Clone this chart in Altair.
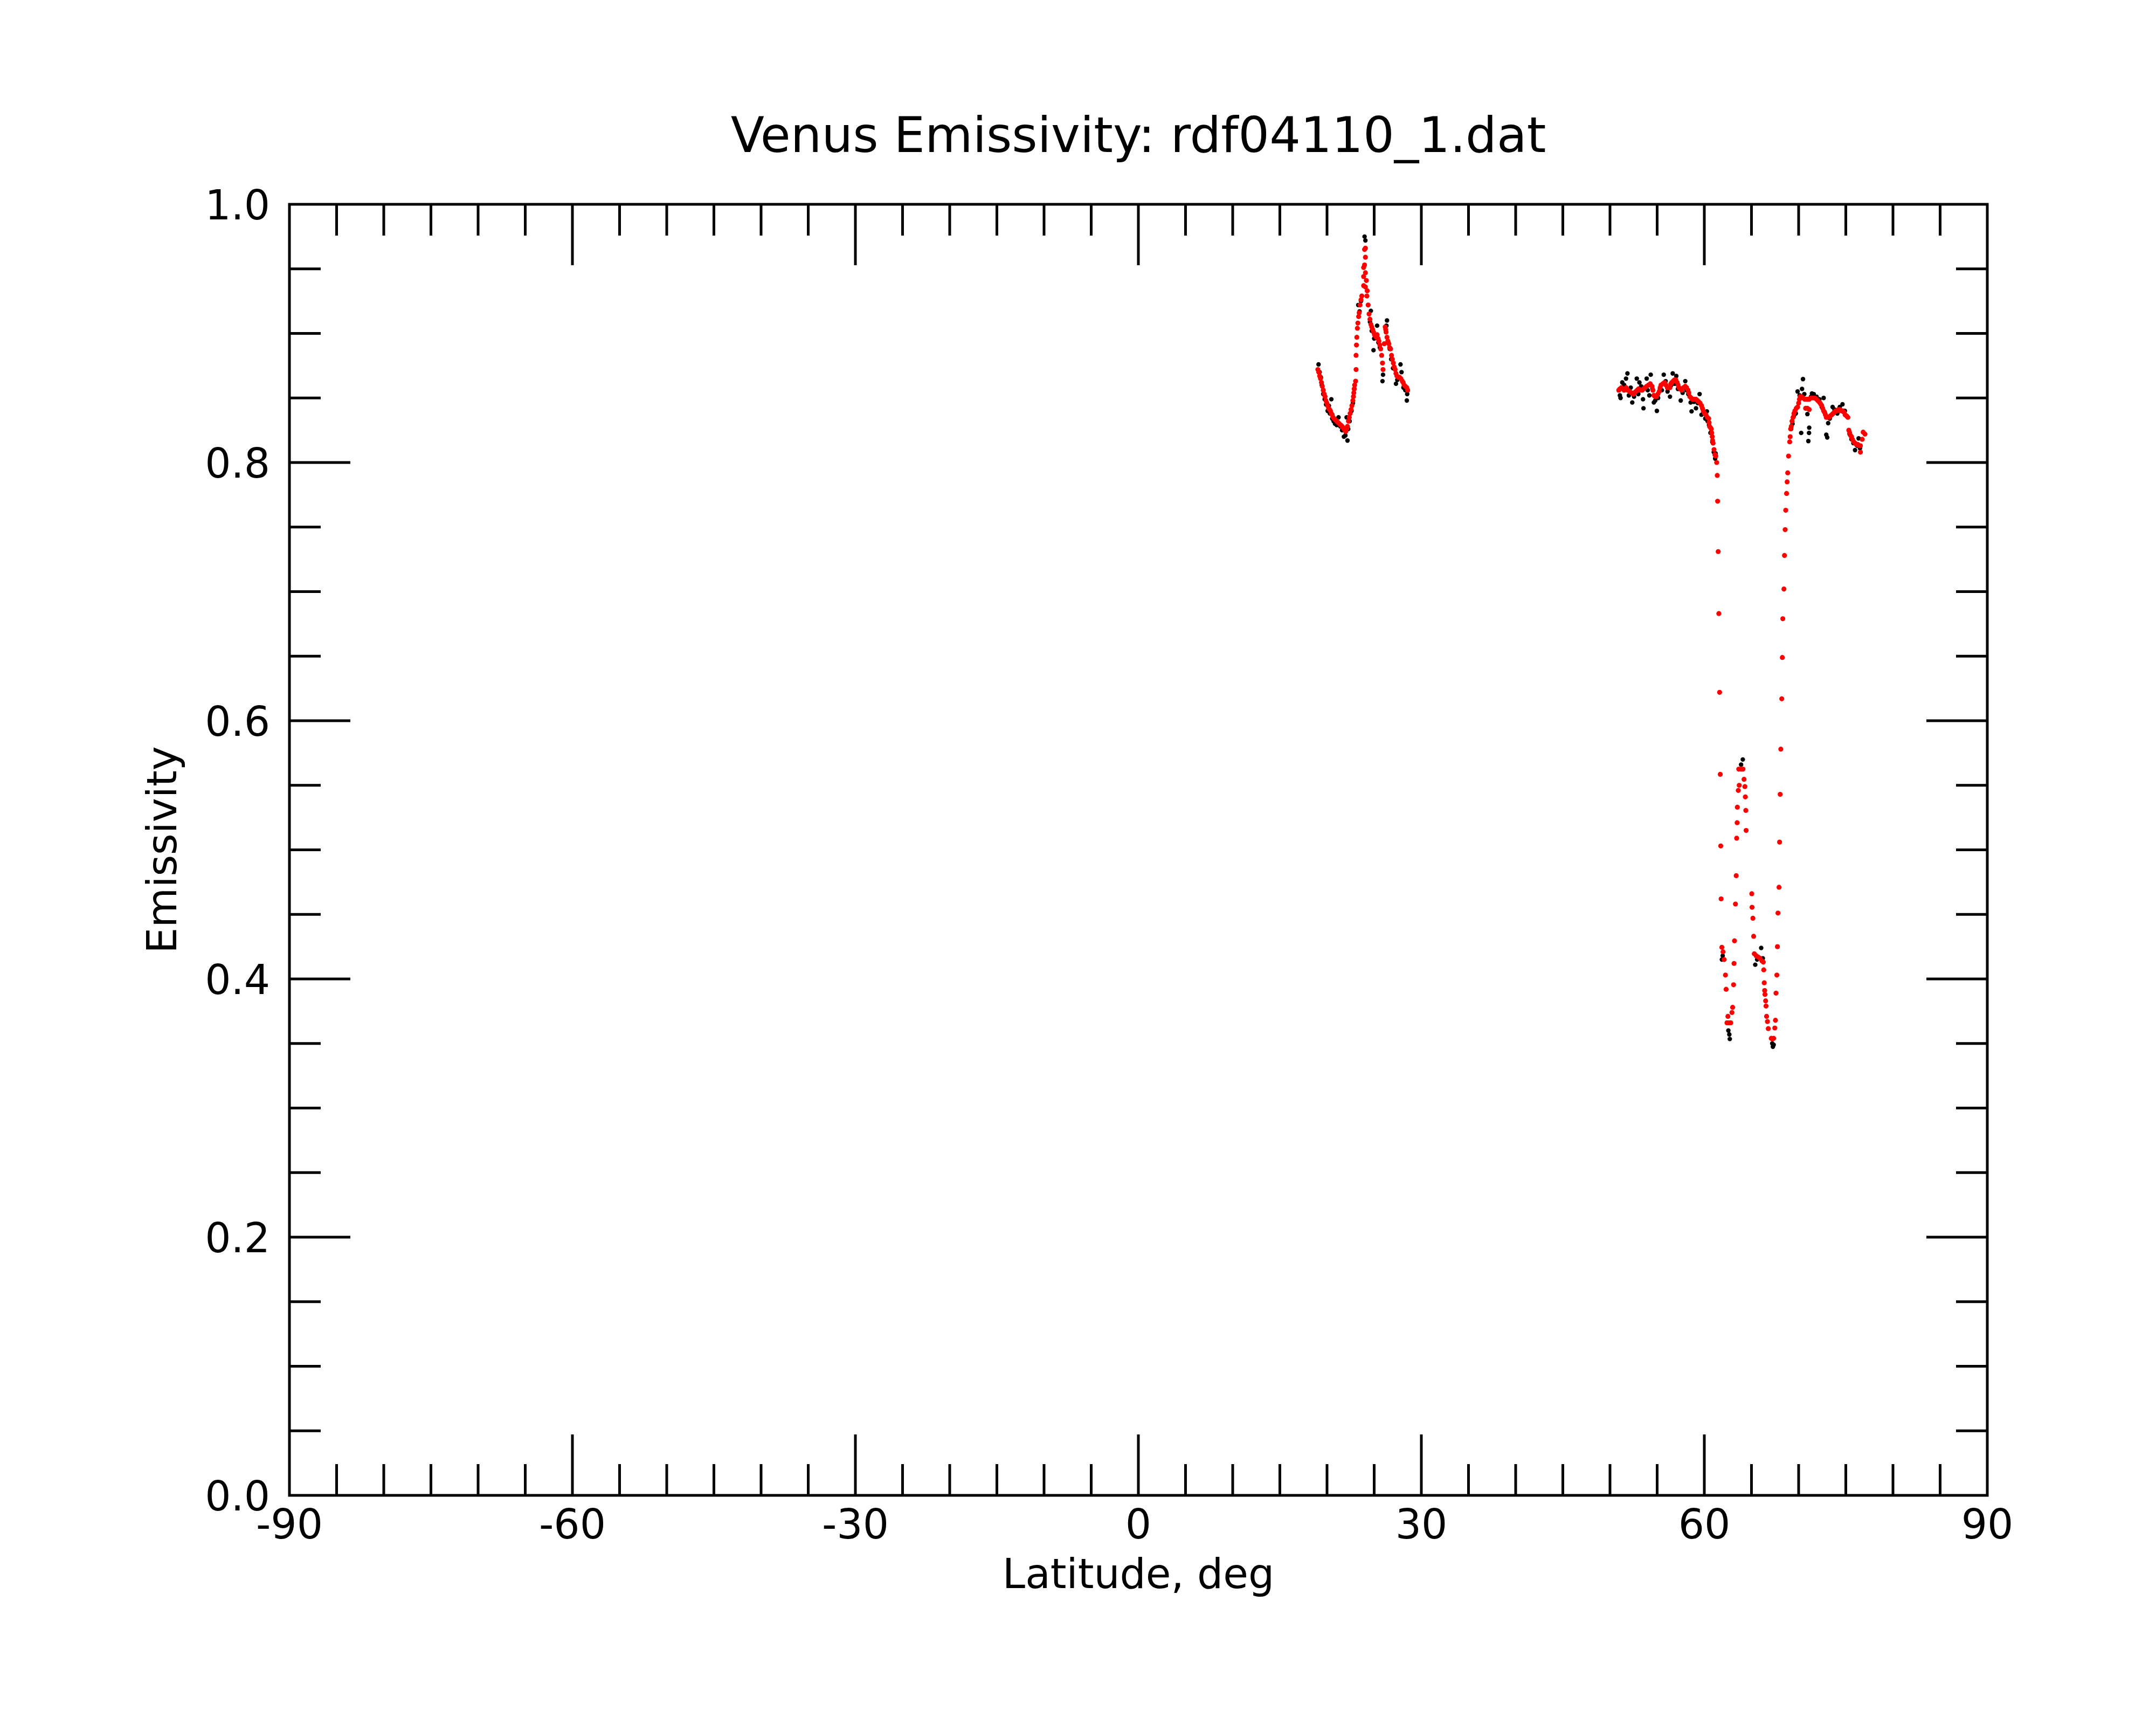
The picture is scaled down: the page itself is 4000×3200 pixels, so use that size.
import altair as alt
import pandas as pd

# ---------------- data ----------------
lat_red = [
    # cluster 1
    19.03, 19.12, 19.22, 19.31, 19.41, 19.50, 19.60, 19.70, 19.79, 19.88,
    19.98, 20.07, 20.17, 20.27, 20.36, 20.45, 20.55, 20.64, 20.74, 20.88,
    21.03, 21.17, 21.31, 21.45, 21.60, 21.70, 21.79, 21.88, 21.98, 22.08,
    22.17, 22.27, 22.36, 22.45, 22.55, 22.64, 22.74, 22.80, 22.84, 22.88,
    22.93, 23.03, 23.08, 23.08, 23.12, 23.16, 23.22, 23.27, 23.35, 23.41,
    23.50, 23.60, 23.69, 23.88, 23.88, 23.88, 23.98, 24.07, 23.98, 24.07,
    24.07, 24.17, 24.07, 24.26, 24.23, 24.36, 24.46, 24.55, 24.65, 24.74,
    24.84, 24.93, 25.03, 25.12, 25.22, 25.31, 25.41, 25.50, 25.60, 25.69,
    25.79, 25.88, 25.94, 26.07, 26.17, 26.22, 26.26, 26.36, 26.45, 26.55,
    26.64, 26.74, 26.84, 26.93, 27.03, 27.12, 27.22, 27.31, 27.41, 27.55,
    27.69, 27.83, 27.98, 28.07, 28.17, 28.31, 28.46, 28.55,
    # cluster 2
    50.93, 51.05, 51.22, 51.36, 51.50, 51.60, 51.70, 51.89, 52.08, 52.27,
    52.46, 52.60, 52.74, 52.89, 53.03, 53.22, 53.41, 53.55, 53.70, 53.89,
    54.08, 54.27, 54.46, 54.55, 54.65, 54.79, 54.93, 55.08, 55.22, 55.32,
    55.41, 55.60, 55.79, 55.93, 56.08, 56.22, 56.36, 56.45, 56.55, 56.70,
    56.84, 56.98, 57.12, 57.22, 57.31, 57.45, 57.60, 57.79, 57.98, 58.12,
    58.27, 58.36, 58.46, 58.60, 58.74, 58.93, 59.12, 59.27, 59.41, 59.55,
    59.70, 59.80, 59.89, 60.03, 60.17, 60.32, 60.46, 60.50, 60.55, 60.65,
    60.74, 60.79, 60.84, 60.88, 60.93, 61.03, 61.12,
    # dip
    61.22, 61.31, 61.37, 61.41, 61.47, 61.54, 61.62, 61.69, 61.74, 61.78,
    61.86, 61.98, 62.10, 62.24, 62.31, 62.50, 62.40, 62.60, 62.80, 62.93,
    63.00, 63.10, 63.15, 63.20, 63.30, 63.38, 63.43, 63.48, 63.50, 63.60,
    63.70, 63.65, 63.90, 64.10, 64.21, 64.30, 64.35, 64.40, 64.43, 65.03,
    65.06, 65.15, 65.23, 65.30, 65.50, 65.70, 65.90, 66.10, 66.25, 66.30,
    66.35, 66.40, 66.43, 66.50, 66.54, 66.60, 66.69, 66.78, 67.10, 67.22,
    67.35, 67.47, 67.54, 67.60, 67.69, 67.75, 67.81, 67.92, 67.98, 68.04,
    68.11, 68.21, 68.27, 68.32, 68.44, 68.50, 68.57, 68.63, 68.72, 68.78,
    68.84, 68.93,
    # cluster 3
    69.05, 69.10, 69.15, 69.22, 69.30, 69.41, 69.50, 69.60, 69.75, 69.89,
    70.00, 70.08, 70.17, 70.30, 70.46, 70.65, 70.84, 71.00, 71.12, 71.30,
    71.51, 71.70, 71.89, 72.03, 72.17, 72.27, 72.36, 72.45, 72.55, 72.65,
    72.74, 72.84, 72.93, 73.08, 73.22, 73.36, 73.51, 73.65, 73.79, 73.93,
    74.08, 74.22, 74.36, 74.50, 74.65, 74.79, 74.93, 75.08, 75.22, 70.74,
    70.93, 71.12, 75.32, 75.41, 75.50, 75.60, 75.70, 75.84, 75.98, 76.12,
    76.27, 76.41, 76.55, 76.55, 76.74, 76.84, 77.03,
]
emis_red = [
    # cluster 1
    0.872, 0.870, 0.867, 0.865, 0.862, 0.859, 0.856, 0.853, 0.851, 0.848,
    0.846, 0.844, 0.842, 0.841, 0.840, 0.838, 0.837, 0.835, 0.834, 0.833,
    0.832, 0.831, 0.830, 0.829, 0.828, 0.827, 0.826, 0.825, 0.824, 0.826,
    0.828, 0.832, 0.835, 0.838, 0.841, 0.844, 0.848, 0.851, 0.854, 0.857,
    0.860, 0.863, 0.872, 0.883, 0.891, 0.897, 0.904, 0.908, 0.913, 0.916,
    0.922, 0.926, 0.929, 0.937, 0.944, 0.951, 0.953, 0.959, 0.965, 0.966,
    0.947, 0.941, 0.936, 0.933, 0.929, 0.922, 0.915, 0.911, 0.907, 0.905,
    0.903, 0.901, 0.899, 0.898, 0.897, 0.899, 0.896, 0.894, 0.891, 0.888,
    0.883, 0.877, 0.872, 0.892, 0.905, 0.903, 0.901, 0.897, 0.894, 0.892,
    0.889, 0.888, 0.883, 0.880, 0.877, 0.874, 0.872, 0.869, 0.867, 0.866,
    0.866, 0.865, 0.863, 0.862, 0.860, 0.859, 0.858, 0.856,
    # cluster 2
    0.856, 0.857, 0.858, 0.857, 0.856, 0.857, 0.858, 0.856, 0.855, 0.854,
    0.853, 0.854, 0.855, 0.856, 0.857, 0.856, 0.856, 0.857, 0.858, 0.859,
    0.860, 0.861, 0.859, 0.856, 0.852, 0.851, 0.851, 0.853, 0.855, 0.858,
    0.860, 0.861, 0.862, 0.860, 0.858, 0.858, 0.858, 0.861, 0.862, 0.863,
    0.864, 0.864, 0.862, 0.860, 0.858, 0.857, 0.856, 0.858, 0.859, 0.858,
    0.856, 0.854, 0.851, 0.850, 0.849, 0.849, 0.849, 0.848, 0.847, 0.846,
    0.844, 0.842, 0.840, 0.838, 0.837, 0.835, 0.834, 0.831, 0.828, 0.827,
    0.826, 0.823, 0.820, 0.817, 0.815, 0.810, 0.806,
    # dip
    0.805, 0.800, 0.790, 0.770, 0.731, 0.683, 0.622, 0.5585, 0.503, 0.462,
    0.4245, 0.421, 0.415, 0.403, 0.392, 0.371, 0.366, 0.366, 0.366, 0.374,
    0.378, 0.3955, 0.412, 0.4295, 0.458, 0.480, 0.509, 0.521, 0.533, 0.546,
    0.550, 0.5625, 0.5625, 0.5625, 0.5546, 0.549, 0.541, 0.5305, 0.515, 0.466,
    0.4555, 0.447, 0.433, 0.4195, 0.418, 0.417, 0.416, 0.414, 0.413, 0.407,
    0.397, 0.391, 0.388, 0.383, 0.379, 0.371, 0.367, 0.3615, 0.354, 0.3535,
    0.354, 0.362, 0.368, 0.389, 0.403, 0.425, 0.451, 0.471, 0.506, 0.543,
    0.578, 0.617, 0.649, 0.679, 0.702, 0.728, 0.748, 0.763, 0.776, 0.785,
    0.792, 0.805,
    # cluster 3
    0.816, 0.820, 0.826, 0.828, 0.832, 0.835, 0.838, 0.840, 0.842, 0.843,
    0.846, 0.849, 0.851, 0.851, 0.850, 0.849, 0.849, 0.849, 0.849, 0.850,
    0.850, 0.850, 0.849, 0.848, 0.847, 0.846, 0.845, 0.844, 0.842, 0.840,
    0.839, 0.837, 0.835, 0.835, 0.835, 0.836, 0.837, 0.838, 0.839, 0.840,
    0.840, 0.841, 0.841, 0.840, 0.840, 0.839, 0.837, 0.836, 0.835, 0.842,
    0.842, 0.841, 0.825, 0.823, 0.821, 0.820, 0.818, 0.816, 0.815, 0.814,
    0.814, 0.813, 0.813, 0.808, 0.818, 0.8235, 0.822,
]

lat_black = [
    # cluster 1
    19.10, 19.22, 19.35, 19.45, 19.60, 19.75, 19.90, 20.07, 20.20, 20.30,
    20.46, 20.55, 20.70, 20.85, 21.03, 21.22, 21.41, 21.60, 21.79, 21.95,
    22.08, 22.17, 22.25, 22.40, 22.60, 22.75, 22.90, 23.31, 23.45, 23.60,
    23.98, 24.07, 24.65, 24.55, 24.74, 24.93, 25.00, 25.31, 25.45, 25.60,
    25.88, 25.94, 26.36, 26.30, 26.50, 26.65, 26.80, 27.00, 27.31, 27.45,
    27.79, 27.90, 28.10, 28.30, 28.46, 28.50,
    # cluster 2
    51.05, 51.12, 51.30, 51.50, 51.70, 51.85, 52.00, 52.20, 52.36, 52.55,
    52.84, 53.00, 53.12, 53.30, 53.50, 53.55, 53.89, 54.00, 54.17, 54.32,
    54.50, 54.65, 54.80, 54.97, 55.10, 55.30, 55.50, 55.70, 55.90, 56.10,
    56.36, 56.50, 56.65, 56.85, 57.03, 57.20, 57.50, 57.70, 57.98, 58.10,
    58.30, 58.55, 58.65, 58.90, 59.12, 59.30, 59.50, 59.70, 59.90, 60.10,
    60.27, 60.35, 60.50, 60.65, 60.85, 61.00, 61.15,
    # dip
    61.20, 61.86, 61.95, 62.55, 62.70, 62.65, 63.90, 64.08, 65.40, 65.60,
    66.03, 66.20, 66.40, 67.20, 67.27, 67.35,
    # cluster 3
    69.20, 69.35, 69.50, 69.70, 69.89, 70.10, 70.27, 70.36, 70.46, 70.60,
    70.93, 71.03, 71.12, 71.10, 71.30, 71.41, 71.60, 71.90, 72.20, 72.45,
    72.65, 72.80, 72.93, 73.03, 73.13, 73.30, 73.60, 73.80, 74.10, 74.36,
    74.65, 74.90, 75.10, 75.40, 75.60, 75.80, 75.98, 76.20, 76.36, 76.50,
]
emis_black = [
    # cluster 1
    0.876, 0.870, 0.866, 0.860, 0.853, 0.849, 0.845, 0.840, 0.844, 0.838,
    0.849, 0.834, 0.832, 0.830, 0.829, 0.835, 0.828, 0.825, 0.820, 0.821,
    0.835, 0.817, 0.826, 0.832, 0.840, 0.846, 0.857, 0.922, 0.917, 0.925,
    0.975, 0.972, 0.9175, 0.909, 0.902, 0.887, 0.896, 0.906, 0.893, 0.889,
    0.863, 0.868, 0.910, 0.906, 0.893, 0.888, 0.880, 0.873, 0.861, 0.864,
    0.876, 0.870, 0.858, 0.856, 0.848, 0.853,
    # cluster 2
    0.852, 0.850, 0.862, 0.860, 0.865, 0.869, 0.852, 0.858, 0.8465, 0.851,
    0.865, 0.853, 0.862, 0.859, 0.849, 0.842, 0.865, 0.856, 0.852, 0.868,
    0.857, 0.8465, 0.848, 0.840, 0.850, 0.857, 0.856, 0.868, 0.863, 0.855,
    0.851, 0.860, 0.869, 0.861, 0.867, 0.857, 0.848, 0.854, 0.863, 0.856,
    0.853, 0.8465, 0.8396, 0.847, 0.842, 0.846, 0.853, 0.837, 0.838, 0.834,
    0.8396, 0.832, 0.829, 0.823, 0.816, 0.808, 0.803,
    # dip
    0.807, 0.415, 0.418, 0.360, 0.3535, 0.357, 0.566, 0.570, 0.411, 0.415,
    0.424, 0.416, 0.391, 0.350, 0.3475, 0.349,
    # cluster 3
    0.826, 0.830, 0.836, 0.838, 0.855, 0.852, 0.8229, 0.857, 0.8646, 0.853,
    0.8375, 0.8166, 0.827, 0.8229, 0.851, 0.8535, 0.853, 0.851, 0.849, 0.843,
    0.850, 0.838, 0.8215, 0.8194, 0.8305, 0.834, 0.843, 0.841, 0.838, 0.843,
    0.8451, 0.840, 0.836, 0.822, 0.818, 0.815, 0.8096, 0.813, 0.8187, 0.811,
]

title_text = "Venus Emissivity: rdf04110_1.dat"
x_title = "Latitude, deg"
y_title = "Emissivity"
x_label_values = [-90, -60, -30, 0, 30, 60, 90]
x_label_text = ["-90", "-60", "-30", "0", "30", "60", "90"]
y_label_values = [0.0, 0.2, 0.4, 0.6, 0.8, 1.0]
y_label_text = ["0.0", "0.2", "0.4", "0.6", "0.8", "1.0"]
x_major_ticks = [-60, -30, 0, 30, 60]
x_minor_ticks = [-85, -80, -75, -70, -65, -55, -50, -45, -40, -35, -25, -20, -15, -10, -5,
                 5, 10, 15, 20, 25, 35, 40, 45, 50, 55, 65, 70, 75, 80, 85]
y_major_ticks = [0.2, 0.4, 0.6, 0.8]
y_minor_ticks = [0.05, 0.1, 0.15, 0.25, 0.3, 0.35, 0.45, 0.5, 0.55, 0.65, 0.7, 0.75,
                 0.85, 0.9, 0.95]

# ---------------- layout / style ----------------
W, H = 3150, 2395
MINOR, MAJOR = 58, 113
FONT = "DejaVu Sans"
TW = 5
FS = 76

xs = alt.Scale(domain=[-90, 90], nice=False, zero=False)
ys = alt.Scale(domain=[0, 1], nice=False, zero=False)

red_df = pd.DataFrame({"lat": lat_red, "emis": emis_red})
black_df = pd.DataFrame({"lat": lat_black, "emis": emis_black})


def xticks(vals, length):
    df = pd.DataFrame({"t": vals})
    base = alt.Chart(df).mark_rule(color="black", strokeWidth=TW)
    bottom = base.encode(x=alt.X("t:Q", scale=xs, axis=None),
                         y=alt.value(H), y2=alt.value(H - length))
    top = base.encode(x=alt.X("t:Q", scale=xs, axis=None),
                      y=alt.value(0), y2=alt.value(length))
    return [bottom, top]


def yticks(vals, length):
    df = pd.DataFrame({"t": vals})
    base = alt.Chart(df).mark_rule(color="black", strokeWidth=TW)
    left = base.encode(y=alt.Y("t:Q", scale=ys, axis=None),
                       x=alt.value(0), x2=alt.value(length))
    right = base.encode(y=alt.Y("t:Q", scale=ys, axis=None),
                        x=alt.value(W), x2=alt.value(W - length))
    return [left, right]


tick_layers = (xticks(x_minor_ticks, MINOR) + xticks(x_major_ticks, MAJOR)
               + yticks(y_minor_ticks, MINOR) + yticks(y_major_ticks, MAJOR))

# tick labels (real text, positioned through the scales)
x_labels = alt.Chart(pd.DataFrame({"v": x_label_values, "s": x_label_text})).mark_text(
    font=FONT, fontSize=FS, color="black", align="center", baseline="alphabetic"
).encode(x=alt.X("v:Q", scale=xs, axis=None), y=alt.value(H + 80), text="s:N")

y_labels = alt.Chart(pd.DataFrame({"v": y_label_values, "s": y_label_text})).mark_text(
    font=FONT, fontSize=FS, color="black", align="right", baseline="alphabetic", dy=28
).encode(y=alt.Y("v:Q", scale=ys, axis=None), x=alt.value(-36), text="s:N")

x_title_mark = alt.Chart(pd.DataFrame({"s": [x_title]})).mark_text(
    font=FONT, fontSize=FS, color="black", align="center", baseline="alphabetic"
).encode(x=alt.value(W / 2), y=alt.value(H + 172), text="s:N")

y_title_mark = alt.Chart(pd.DataFrame({"s": [y_title]})).mark_text(
    font=FONT, fontSize=FS, color="black", align="center", baseline="alphabetic",
    angle=270
).encode(x=alt.value(-210), y=alt.value(H / 2), text="s:N")

title_mark = alt.Chart(pd.DataFrame({"s": [title_text]})).mark_text(
    font=FONT, fontSize=91, color="black", align="center", baseline="alphabetic"
).encode(x=alt.value(W / 2), y=alt.value(-97), text="s:N")

black_pts = alt.Chart(black_df).mark_circle(color="black", size=70, opacity=1).encode(
    x=alt.X("lat:Q", scale=xs, axis=None),
    y=alt.Y("emis:Q", scale=ys, axis=None),
)
red_pts = alt.Chart(red_df).mark_circle(color="#ff0000", size=85, opacity=1).encode(
    x=alt.X("lat:Q", scale=xs, axis=None),
    y=alt.Y("emis:Q", scale=ys, axis=None),
)

chart = alt.layer(
    *tick_layers, black_pts, red_pts,
    x_labels, y_labels, x_title_mark, y_title_mark, title_mark,
).properties(
    width=W,
    height=H,
    autosize=alt.AutoSizeParams(type="none"),
    padding={"left": 529, "top": 371, "right": 300, "bottom": 400},
    background="white",
).configure_view(stroke="black", strokeWidth=5)

chart.save("out.html", embed_options={"renderer": "svg", "actions": False})
